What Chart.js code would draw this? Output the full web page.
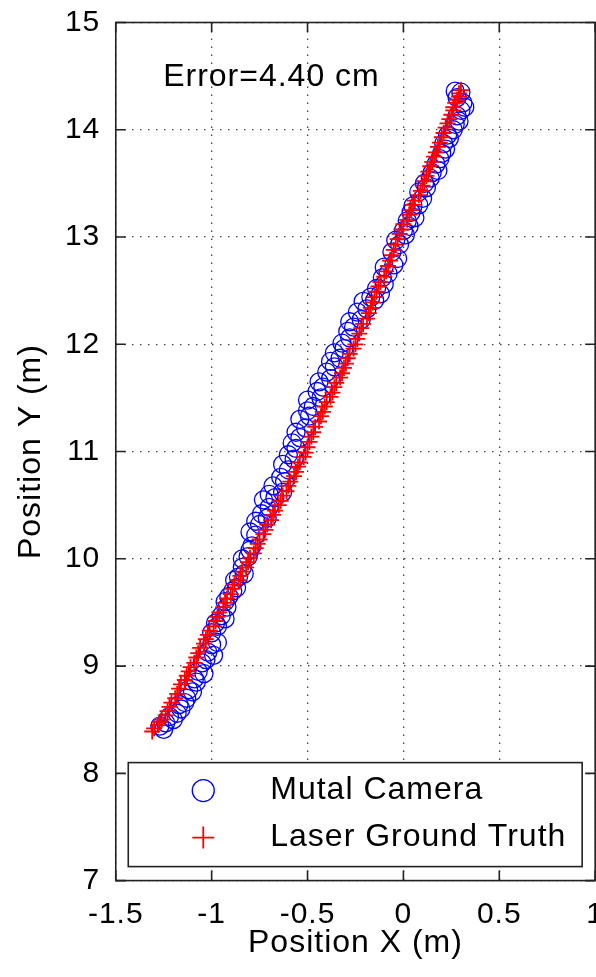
<!DOCTYPE html>
<html>
<head>
<meta charset="utf-8">
<script src="https://cdn.jsdelivr.net/npm/chart.js@4.4.0/dist/chart.umd.min.js"></script>
<style>
  html, body { margin: 0; padding: 0; background: #fff; overflow: hidden; }
  #wrap { width: 596px; height: 977px; overflow: hidden; }
  canvas { display: block; margin-top: -11px; }
</style>
</head>
<body>
<div id="wrap"><canvas id="trayectoria" width="620" height="988"></canvas></div>
<script>
// camara (circulos azules)
const camX = [-1.27, -1.24, -1.22, -1.18, -1.17, -1.13, -1.12, -1.08, -1.07, -1.05,
  -1.02, -1.00, -1.00, -0.97, -0.95, -0.92, -0.91, -0.87, -0.86, -0.84,
  -0.81, -0.79, -0.77, -0.75, -0.71, -0.70, -0.67, -0.63, -0.62, -0.60,
  -0.57, -0.56, -0.54, -0.51, -0.49, -0.47, -0.43, -0.42, -0.38, -0.36,
  -0.33, -0.31, -0.28, -0.26, -0.22, -0.19, -0.17, -0.12, -0.10, -0.08,
  -0.05, -0.06, -0.02, 0.01, 0.03, 0.06, 0.05, 0.10, 0.12, 0.14,
  0.18, 0.19, 0.22, 0.24, 0.26, 0.29, 0.30, 0.31, 0.30,
  -1.25, -1.20, -1.16, -1.14, -1.10, -1.09, -1.04, -1.03, -0.99, -0.97,
  -0.98, -0.93, -0.93, -0.89, -0.88, -0.83, -0.84, -0.80, -0.80, -0.77,
  -0.74, -0.73, -0.70, -0.68, -0.64, -0.63, -0.60, -0.58, -0.56, -0.54,
  -0.50, -0.50, -0.45, -0.44, -0.40, -0.38, -0.36, -0.32, -0.29, -0.28,
  -0.24, -0.21, -0.15, -0.14, -0.11, -0.10, -0.03, -0.04, 0.00, 0.02,
  0.04, 0.08, 0.08, 0.11, 0.15, 0.17, 0.20, 0.21, 0.23, 0.27,
  0.28, 0.32, 0.28, 0.27];
const camY = [8.44, 8.47, 8.53, 8.56, 8.64, 8.70, 8.78, 8.85, 8.95, 9.03,
  9.13, 9.20, 9.31, 9.37, 9.47, 9.55, 9.65, 9.73, 9.83, 9.92,
  10.02, 10.12, 10.22, 10.32, 10.38, 10.48, 10.57, 10.62, 10.72, 10.83,
  10.93, 11.03, 11.13, 11.22, 11.33, 11.42, 11.50, 11.60, 11.68, 11.79,
  11.87, 11.96, 12.06, 12.16, 12.23, 12.33, 12.44, 12.47, 12.56, 12.66,
  12.74, 12.86, 12.93, 13.02, 13.10, 13.18, 13.29, 13.36, 13.46, 13.55,
  13.62, 13.73, 13.82, 13.92, 14.00, 14.08, 14.18, 14.25, 14.35,
  8.41, 8.50, 8.60, 8.66, 8.76, 8.88, 8.93, 9.06, 9.10, 9.22,
  9.40, 9.44, 9.60, 9.70, 9.80, 9.86, 10.00, 10.08, 10.25, 10.35,
  10.42, 10.55, 10.60, 10.68, 10.76, 10.88, 10.97, 11.08, 11.18, 11.30,
  11.38, 11.48, 11.56, 11.65, 11.74, 11.84, 11.92, 12.01, 12.12, 12.21,
  12.30, 12.40, 12.41, 12.52, 12.62, 12.72, 12.80, 12.97, 13.06, 13.15,
  13.23, 13.30, 13.42, 13.50, 13.60, 13.68, 13.78, 13.87, 13.95, 14.05,
  14.13, 14.21, 14.30, 14.36];

// laser (cruces rojas)
const laserX = [-1.31, -1.28, -1.26, -1.23, -1.21, -1.18, -1.16, -1.13, -1.11, -1.08,
  -1.06, -1.03, -1.01, -0.98, -0.96, -0.93, -0.90, -0.88, -0.85, -0.82,
  -0.80, -0.77, -0.75, -0.72, -0.69, -0.67, -0.64, -0.61, -0.59, -0.56,
  -0.54, -0.51, -0.49, -0.47, -0.44, -0.42, -0.40, -0.37, -0.35, -0.32,
  -0.30, -0.28, -0.25, -0.23, -0.21, -0.18, -0.16, -0.14, -0.12, -0.09,
  -0.07, -0.05, -0.03, -0.01, 0.02, 0.04, 0.06, 0.09, 0.11, 0.13,
  0.15, 0.17, 0.19, 0.21, 0.23, 0.25, 0.26, 0.28, 0.29,
  -1.30, -1.27, -1.24, -1.22, -1.19, -1.17, -1.14, -1.12, -1.09, -1.07,
  -1.04, -1.02, -0.99, -0.97, -0.94, -0.92, -0.89, -0.86, -0.84, -0.81,
  -0.78, -0.76, -0.73, -0.71, -0.68, -0.65, -0.63, -0.60, -0.57, -0.55,
  -0.52, -0.50, -0.48, -0.46, -0.43, -0.41, -0.38, -0.36, -0.33, -0.31,
  -0.29, -0.26, -0.24, -0.22, -0.19, -0.17, -0.15, -0.13, -0.10, -0.08,
  -0.06, -0.04, -0.02, 0.00, 0.03, 0.05, 0.08, 0.10, 0.12, 0.14,
  0.16, 0.18, 0.20, 0.22, 0.24, 0.26, 0.27, 0.29, 0.30];
const laserY = [8.39, 8.45, 8.50, 8.58, 8.66, 8.74, 8.83, 8.91, 8.99, 9.08,
  9.17, 9.25, 9.33, 9.42, 9.50, 9.59, 9.67, 9.76, 9.84, 9.92,
  10.01, 10.10, 10.18, 10.27, 10.36, 10.45, 10.54, 10.63, 10.72, 10.81,
  10.90, 10.99, 11.09, 11.18, 11.28, 11.37, 11.46, 11.55, 11.64, 11.73,
  11.82, 11.91, 12.00, 12.10, 12.19, 12.29, 12.39, 12.49, 12.58, 12.68,
  12.78, 12.88, 12.98, 13.07, 13.16, 13.25, 13.34, 13.43, 13.52, 13.61,
  13.70, 13.79, 13.88, 13.97, 14.06, 14.14, 14.21, 14.28, 14.34,
  8.42, 8.48, 8.54, 8.62, 8.70, 8.79, 8.87, 8.95, 9.03, 9.12,
  9.21, 9.29, 9.37, 9.46, 9.55, 9.63, 9.72, 9.80, 9.88, 9.97,
  10.05, 10.14, 10.23, 10.32, 10.41, 10.50, 10.59, 10.68, 10.77, 10.86,
  10.95, 11.04, 11.14, 11.23, 11.33, 11.42, 11.51, 11.60, 11.69, 11.78,
  11.87, 11.96, 12.05, 12.15, 12.24, 12.34, 12.44, 12.54, 12.63, 12.73,
  12.83, 12.93, 13.03, 13.12, 13.21, 13.30, 13.39, 13.48, 13.57, 13.66,
  13.75, 13.84, 13.93, 14.02, 14.10, 14.18, 14.25, 14.31, 14.37];

const nombres = ["Mutal Camera", "Laser Ground Truth"];
const errorTexto = "Error=4.40 cm";
const errorPos = [-1.253, 14.41];

const fuente = "'Liberation Sans', Arial, sans-serif";
Chart.defaults.font.family = fuente;
Chart.defaults.color = "#000";

const puntos = (xs, ys) => xs.map((v, i) => ({ x: v, y: ys[i] }));
const etiqueta = (v) => String(+v.toFixed(2));

// espaciado de letras parecido al de matlab
const espaciado = {
  id: "espaciado",
  beforeUpdate(chart) { chart.ctx.letterSpacing = "1px"; },
  beforeDraw(chart) { chart.ctx.letterSpacing = "1px"; }
};

// caja con marcas hacia adentro en los 4 lados
const marco = {
  id: "marco",
  afterDatasetsDraw(chart) {
    const { ctx, chartArea: a, scales: { x, y } } = chart;
    ctx.save();
    ctx.strokeStyle = "#222";
    ctx.lineWidth = 1.6;
    ctx.strokeRect(a.left, a.top, a.right - a.left, a.bottom - a.top);
    ctx.beginPath();
    x.ticks.forEach((t) => {
      const px = x.getPixelForValue(t.value);
      ctx.moveTo(px, a.bottom); ctx.lineTo(px, a.bottom - 10);
      ctx.moveTo(px, a.top); ctx.lineTo(px, a.top + 10);
    });
    y.ticks.forEach((t) => {
      const py = y.getPixelForValue(t.value);
      ctx.moveTo(a.left, py); ctx.lineTo(a.left + 10, py);
      ctx.moveTo(a.right, py); ctx.lineTo(a.right - 10, py);
    });
    ctx.stroke();
    ctx.restore();
  }
};

// leyenda dentro del area, abajo
const leyenda = {
  id: "leyenda",
  afterDraw(chart) {
    const { ctx, chartArea: a, scales: { x, y } } = chart;
    ctx.save();
    const left = a.left + 12.5, right = a.right - 13;
    const bottom = a.bottom - 14, top = bottom - 104;
    ctx.fillStyle = "#fff";
    ctx.fillRect(left, top, right - left, bottom - top);
    ctx.strokeStyle = "#222";
    ctx.lineWidth = 1.6;
    ctx.strokeRect(left, top, right - left, bottom - top);
    const filas = [top + 28, top + 75];
    chart.data.datasets.forEach((ds, i) => {
      const cx = left + 75, cy = filas[i];
      ctx.strokeStyle = ds.borderColor;
      ctx.lineWidth = ds.borderWidth;
      ctx.beginPath();
      if (ds.pointStyle === "circle") {
        ctx.arc(cx, cy, 11, 0, Math.PI * 2);
      } else {
        ctx.moveTo(cx - 11, cy); ctx.lineTo(cx + 11, cy);
        ctx.moveTo(cx, cy - 11); ctx.lineTo(cx, cy + 11);
      }
      ctx.stroke();
      ctx.fillStyle = "#000";
      ctx.font = "32px " + fuente;
      ctx.textBaseline = "middle";
      ctx.textAlign = "left";
      ctx.fillText(ds.label, left + 142, cy);
    });
    // texto del error
    ctx.font = "32px " + fuente;
    ctx.textBaseline = "alphabetic";
    ctx.textAlign = "left";
    ctx.fillText(errorTexto, x.getPixelForValue(errorPos[0]), y.getPixelForValue(errorPos[1]));
    ctx.restore();
  }
};

new Chart(document.getElementById("trayectoria"), {
  type: "scatter",
  data: {
    datasets: [
      {
        label: nombres[0],
        data: puntos(camX, camY),
        pointStyle: "circle",
        pointRadius: 9,
        borderColor: "#0000ff",
        backgroundColor: "rgba(0,0,0,0)",
        borderWidth: 1.3,
        order: 1
      },
      {
        label: nombres[1],
        data: puntos(laserX, laserY),
        pointStyle: "cross",
        pointRadius: 8,
        borderColor: "#ff0000",
        backgroundColor: "#ff0000",
        borderWidth: 1.8,
        order: 0
      }
    ]
  },
  options: {
    responsive: false,
    animation: false,
    layout: { padding: { top: 22, left: 0, right: 0, bottom: 0 } },
    plugins: { legend: { display: false }, tooltip: { enabled: false } },
    scales: {
      x: {
        type: "linear",
        min: -1.5,
        max: 1,
        ticks: { stepSize: 0.5, padding: 16, font: { size: 30 }, callback: etiqueta },
        grid: { color: "#444", lineWidth: 1.3, drawTicks: false },
        border: { display: false, dash: [1.5, 6.5] },
        title: { display: true, text: "Position X (m)", font: { size: 32 }, padding: { top: -25, bottom: 15 } }
      },
      y: {
        type: "linear",
        min: 7,
        max: 15,
        ticks: { stepSize: 1, padding: 15.5, font: { size: 30 }, callback: etiqueta },
        grid: { color: "#444", lineWidth: 1.3, drawTicks: false },
        border: { display: false, dash: [1.5, 6.5] },
        title: { display: true, text: "Position Y (m)", font: { size: 32 }, padding: { top: 12, bottom: -1 } }
      }
    }
  },
  plugins: [espaciado, marco, leyenda]
});
</script>
</body>
</html>
